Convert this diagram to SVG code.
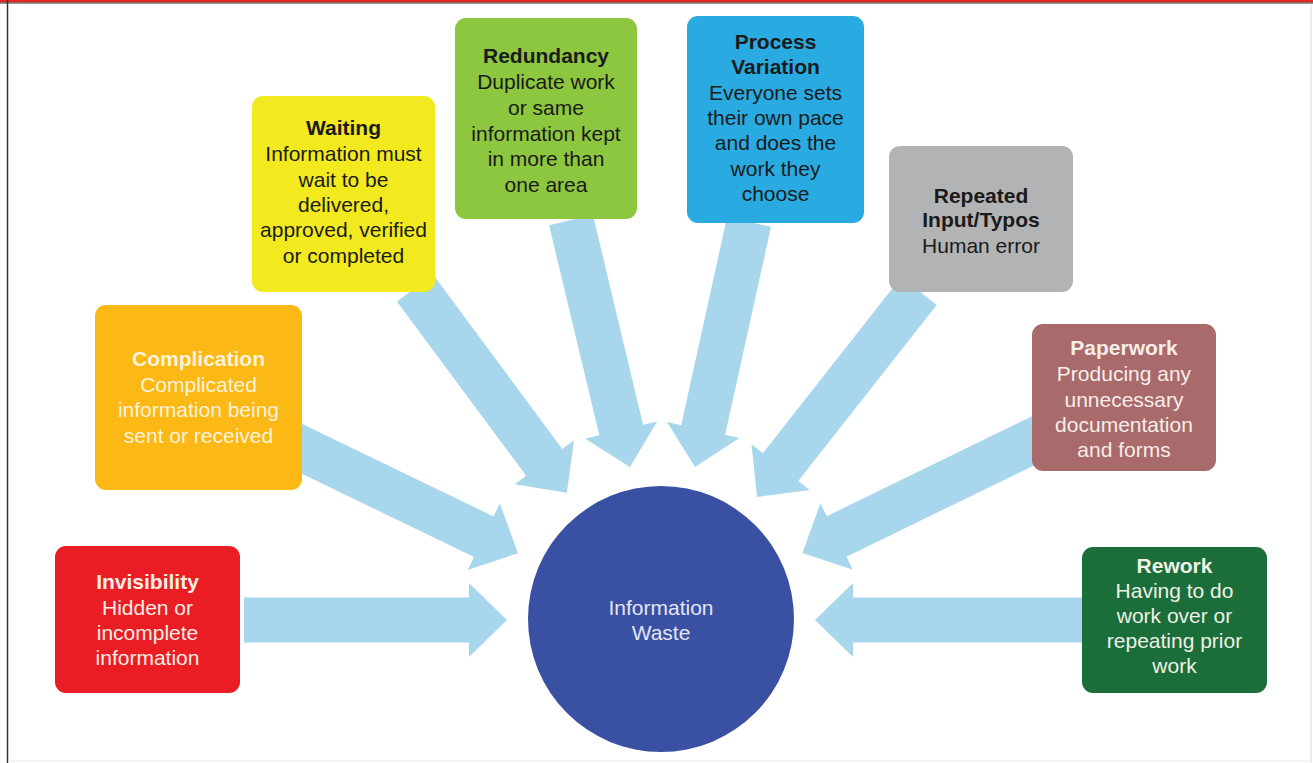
<svg xmlns="http://www.w3.org/2000/svg" width="1313" height="763" viewBox="0 0 1313 763">
<style>
.box{stroke:none}
.t{font-family:"Liberation Sans",Arial,sans-serif;font-size:21px;text-anchor:middle}
.b{font-weight:bold}
.dk{fill:#1a1a1a}
.lt{fill:#fbeee4}
.arr{fill:#a7d6ed}
</style>
<rect x="0" y="0" width="1313" height="763" fill="#ffffff"/>
<rect x="0" y="0" width="1313" height="2.5" fill="#e52521"/>
<line x1="0" y1="3" x2="1313" y2="3" stroke="#333" stroke-width="1"/>
<line x1="7.5" y1="0" x2="7.5" y2="763" stroke="#333" stroke-width="1.5"/>
<line x1="1311" y1="4" x2="1311" y2="763" stroke="#ddd" stroke-width="1"/>
<line x1="8" y1="761" x2="1311" y2="761" stroke="#e8e8e8" stroke-width="1"/>

<g id="connectors">
<path class="arr" transform="translate(244,620)" d="M0,-22.5 H225 V-37 L263,0 L225,37 V22.5 H0 Z"/>
<path class="arr" transform="translate(292,444) rotate(25.8)" d="M0,-22.5 H213 V-37 L251,0 L213,37 V22.5 H0 Z"/>
<path class="arr" transform="translate(415,288) rotate(53.44)" d="M0,-22.5 H217 V-37 L255,0 L217,37 V22.5 H0 Z"/>
<path class="arr" transform="translate(571,220) rotate(76.57)" d="M0,-22.5 H216 V-37 L254,0 L216,37 V22.5 H0 Z"/>
<path class="arr" transform="translate(749,222) rotate(102.43)" d="M0,-22.5 H213 V-37 L251,0 L213,37 V22.5 H0 Z"/>
<path class="arr" transform="translate(919,291) rotate(128.18)" d="M0,-22.5 H224 V-37 L262,0 L224,37 V22.5 H0 Z"/>
<path class="arr" transform="translate(1047,434) rotate(154.03)" d="M0,-22.5 H234 V-37 L272,0 L234,37 V22.5 H0 Z"/>
<path class="arr" transform="translate(1082,620) rotate(180)" d="M0,-22.5 H229 V-37 L267,0 L229,37 V22.5 H0 Z"/>
</g>

<g id="center">
<circle cx="661" cy="619" r="133" fill="#3a50a2"/>
<text class="t" fill="#e3e6f2" x="661" y="615">Information</text>
<text class="t" fill="#e3e6f2" x="661" y="640">Waste</text>
</g>

<g id="invisibility">
<rect class="box" x="55" y="546" width="185" height="147" rx="11" fill="#ea1d24"/>
<text class="t b lt" x="147.5" y="589">Invisibility</text>
<text class="t lt" x="147.5" y="615">Hidden or</text>
<text class="t lt" x="147.5" y="640">incomplete</text>
<text class="t lt" x="147.5" y="665">information</text>
</g>

<g id="complication">
<rect class="box" x="95" y="305" width="207" height="185" rx="11" fill="#fcb814"/>
<text class="t b" fill="#fdf3dc" x="198.5" y="366">Complication</text>
<text class="t" fill="#fdf3dc" x="198.5" y="392">Complicated</text>
<text class="t" fill="#fdf3dc" x="198.5" y="417">information being</text>
<text class="t" fill="#fdf3dc" x="198.5" y="443">sent or received</text>
</g>

<g id="waiting">
<rect class="box" x="252" y="96" width="183" height="196" rx="11" fill="#f2ea1e"/>
<text class="t b dk" x="343.5" y="135">Waiting</text>
<text class="t dk" x="343.5" y="161">Information must</text>
<text class="t dk" x="343.5" y="187">wait to be</text>
<text class="t dk" x="343.5" y="212">delivered,</text>
<text class="t dk" x="343.5" y="237">approved, verified</text>
<text class="t dk" x="343.5" y="263">or completed</text>
</g>

<g id="redundancy">
<rect class="box" x="455" y="18" width="182" height="201" rx="11" fill="#8dc63f"/>
<text class="t b dk" x="546" y="63">Redundancy</text>
<text class="t dk" x="546" y="89">Duplicate work</text>
<text class="t dk" x="546" y="115">or same</text>
<text class="t dk" x="546" y="141">information kept</text>
<text class="t dk" x="546" y="166">in more than</text>
<text class="t dk" x="546" y="192">one area</text>
</g>

<g id="process-variation">
<rect class="box" x="687" y="16" width="177" height="207" rx="11" fill="#29abe2"/>
<text class="t b dk" x="775.5" y="49">Process</text>
<text class="t b dk" x="775.5" y="74">Variation</text>
<text class="t dk" x="775.5" y="100">Everyone sets</text>
<text class="t dk" x="775.5" y="125">their own pace</text>
<text class="t dk" x="775.5" y="150">and does the</text>
<text class="t dk" x="775.5" y="176">work they</text>
<text class="t dk" x="775.5" y="201">choose</text>
</g>

<g id="repeated-input">
<rect class="box" x="889" y="146" width="184" height="146" rx="11" fill="#b2b3b5"/>
<text class="t b dk" x="981" y="203">Repeated</text>
<text class="t b dk" x="981" y="227">Input/Typos</text>
<text class="t dk" x="981" y="253">Human error</text>
</g>

<g id="paperwork">
<rect class="box" x="1032" y="324" width="184" height="147" rx="11" fill="#a86a6a"/>
<text class="t b" fill="#f7ede9" x="1124" y="355">Paperwork</text>
<text class="t" fill="#f7ede9" x="1124" y="381">Producing any</text>
<text class="t" fill="#f7ede9" x="1124" y="407">unnecessary</text>
<text class="t" fill="#f7ede9" x="1124" y="432">documentation</text>
<text class="t" fill="#f7ede9" x="1124" y="457">and forms</text>
</g>

<g id="rework">
<rect class="box" x="1082" y="547" width="185" height="146" rx="11" fill="#1b6d3a"/>
<text class="t b" fill="#eef2e6" x="1174.5" y="573">Rework</text>
<text class="t" fill="#eef2e6" x="1174.5" y="598">Having to do</text>
<text class="t" fill="#eef2e6" x="1174.5" y="623">work over or</text>
<text class="t" fill="#eef2e6" x="1174.5" y="648">repeating prior</text>
<text class="t" fill="#eef2e6" x="1174.5" y="673">work</text>
</g>
</svg>
